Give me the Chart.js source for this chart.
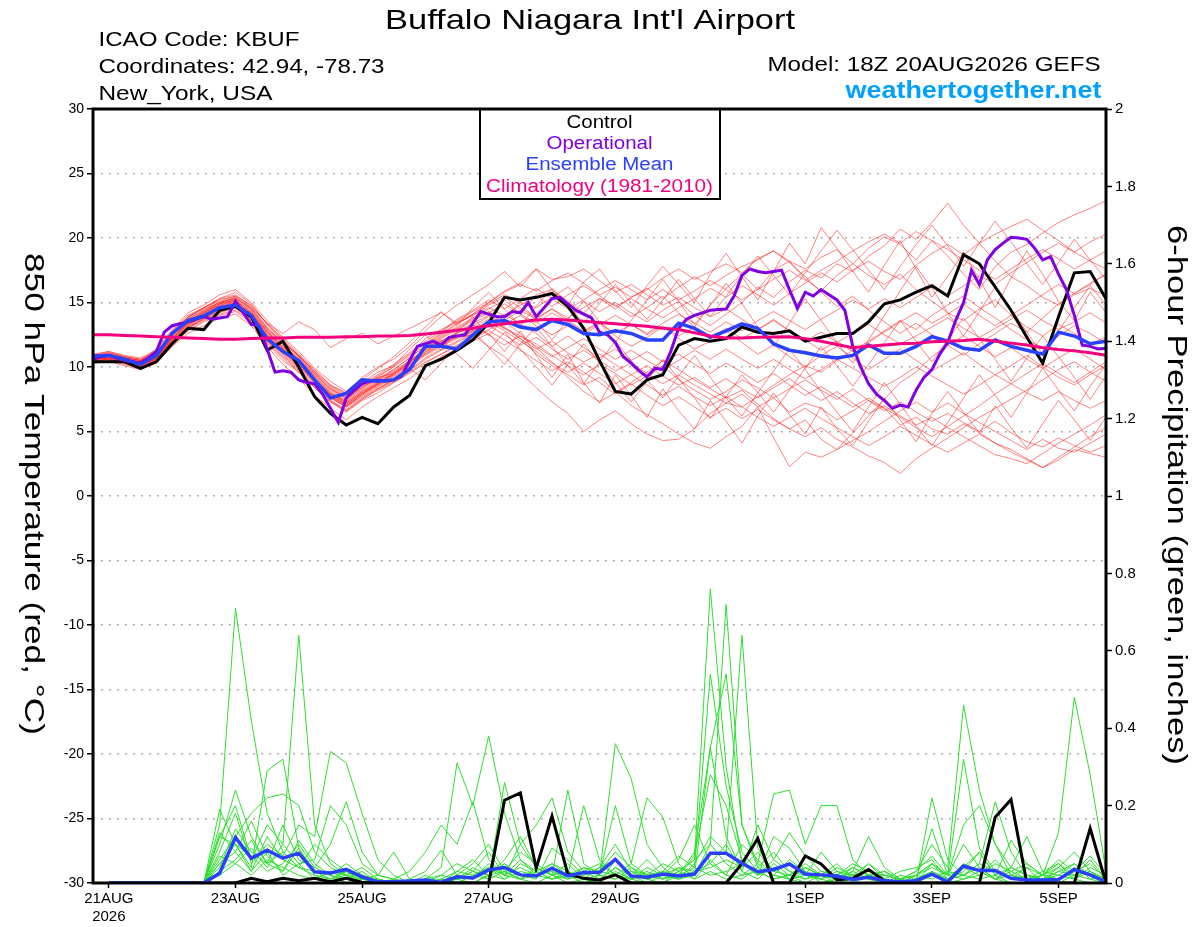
<!DOCTYPE html>
<html><head><meta charset="utf-8">
<script src="https://cdn.jsdelivr.net/npm/chart.js@4.4.1/dist/chart.umd.min.js"></script>
<style>html,body{margin:0;padding:0;background:#fff;} #wrap{width:1200px;height:927px;position:relative;}</style>
</head><body><div id="wrap"><canvas id="c"></canvas></div>
<script>
// ---- time axis (hours after 18Z 20AUG2026) ----
const tickHours = [6, 54, 102, 150, 198, 270, 318, 366];
const tickLabels = [['21AUG', '2026'], '23AUG', '25AUG', '27AUG', '29AUG', '1SEP', '3SEP', '5SEP'];
const stepHours = 6;      // GEFS output interval
const opStepHours = 3;    // operational output interval

// ---- 850 hPa temperature (C), 6-hourly ----
const controlTemp = [10.4,10.4,10.4,9.9,10.4, 11.8,13.0,12.9,14.4,14.7, 13.9,11.3,12.0,10.0,7.7, 6.4,5.5,6.1,5.6,6.9,
  7.8,10.1,10.6,11.3,12.1, 13.4,15.4,15.2,15.4,15.7, 14.7,13.0,10.5,8.1,7.9, 9.0,9.4,11.7,12.2,12.0,
  12.2,13.1,12.7,12.6,12.8, 12.0,12.3,12.6,12.6,13.5, 14.9,15.2,15.8,16.3,15.5, 18.7,18.0,16.2,14.4,12.3,
  10.3,13.9,17.3,17.4,15.3];
const meanTemp = [10.85,10.9,10.6,10.2,10.9, 12.6,13.6,13.95,14.6,14.8, 14.0,12.2,11.2,10.5,9.0, 7.6,7.95,9.0,8.9,9.0,
  9.8,11.6,11.6,11.4,12.5, 13.5,13.6,13.1,12.9,13.6, 13.3,12.6,12.5,12.8,12.6, 12.1,12.1,13.4,13.0,12.3,
  12.8,13.35,13.0,11.8,11.3, 11.1,10.85,10.7,10.9,11.7, 11.06,11.06,11.6,12.35,12.0, 11.45,11.3,12.1,11.6,11.3,
  11.0,12.7,12.4,11.8,12.0];
const climoTemp = [12.5,12.5,12.45,12.4,12.35, 12.3,12.25,12.2,12.15,12.15, 12.2,12.25,12.25,12.3,12.3, 12.3,12.35,12.35,12.4,12.4,
  12.45,12.55,12.7,12.85,13.0, 13.2,13.35,13.5,13.65,13.7, 13.65,13.55,13.45,13.35,13.25, 13.15,13.0,12.9,12.65,12.4,
  12.25,12.25,12.3,12.32,12.35, 12.2,12.0,11.75,11.5,11.6, 11.7,11.8,11.85,11.95,12.0, 12.05,12.15,12.0,11.85,11.7,
  11.5,11.35,11.25,11.1,10.9];
// operational, 3-hourly
const operTemp = [10.6,10.8,10.9,10.7,10.5,10.4,10.3,10.7,11.2,12.7,
  13.2,13.35,13.5,13.7,13.9,13.7,13.8,13.9,15.1,14.2,
  13.3,13.2,11.4,9.6,9.7,9.6,9.0,8.8,8.7,7.9,
  6.8,5.7,7.6,8.2,8.7,8.9,9.0,8.9,9.0,9.3,
  10.5,11.6,11.8,12.0,11.7,12.3,12.4,12.5,13.4,14.3,
  14.1,13.9,13.9,14.3,14.2,15.0,13.9,14.6,15.3,15.4,
  14.9,14.4,14.1,13.8,12.7,12.5,11.9,10.8,10.3,9.7,
  9.25,9.9,9.8,11.2,13.0,13.7,14.0,14.2,14.4,14.45,
  14.5,15.5,17.1,17.6,17.4,17.3,17.4,17.5,16.0,14.55,
  15.8,15.5,16.0,15.6,15.2,14.4,11.6,10.0,8.7,7.9,
  7.4,6.8,7.05,6.9,8.2,9.2,9.8,11.0,11.9,13.6,
  15.0,17.5,16.4,18.3,19.1,19.6,20.05,20.0,19.9,19.2,
  18.3,18.55,17.2,16.0,14.0,11.7,11.6,11.4,11.45];
// ensemble members (read approximately)
const tempMembers = [
 [10.8,11.0,10.7,10.5,11.0, 12.4,13.6,14.2,14.8,15.2, 14.3,12.8,11.6,10.7,9.3, 8.0,7.4,8.6,9.2,9.5, 10.3,11.5,12.4,13.1,13.8, 14.5,15.2,14.1,15.6,16.0, 15.1,14.2,15.3,14.8,13.9, 14.6,15.5,14.2,13.1,14.8, 16.1,17.2,16.0,17.5,18.2, 16.8,15.9,17.1,18.0,19.2, 20.1,19.5,18.3,19.8,18.6, 17.2,16.0,17.8,18.9,19.5, 20.4,21.2,21.8,22.3,22.9],
 [10.5,10.9,10.4,10.2,10.8, 12.1,13.2,14.0,14.5,14.9, 13.8,12.0,11.1,10.3,8.8, 7.6,6.9,7.8,8.5,9.1, 10.0,11.2,11.9,12.3,12.8, 13.6,13.0,12.4,11.8,10.9, 10.1,9.4,10.2,9.5,8.6, 9.3,10.1,9.0,8.2,7.5, 8.1,9.0,8.4,7.6,6.5, 7.2,6.8,5.9,6.6,7.4, 6.8,5.5,6.1,5.2,4.8, 5.6,4.9,4.1,3.6,2.9, 2.2,2.8,3.6,3.3,3.0],
 [11.0,11.2,10.9,10.7,11.3, 12.8,14.0,14.6,15.3,15.6, 14.7,13.4,12.2,11.0,9.8, 8.6,7.9,8.8,9.6,10.1, 11.0,12.2,12.9,13.5,14.1, 14.9,15.6,15.0,14.6,15.4, 16.2,15.1,14.3,15.0,14.2, 13.5,14.4,15.1,14.0,13.2, 14.1,15.0,16.2,15.4,16.6, 17.5,16.9,18.0,17.4,18.6, 19.4,20.7,19.9,21.2,22.7, 21.0,19.6,18.2,17.0,16.3, 15.4,14.8,15.6,16.1,15.5],
 [10.4,10.6,10.3,10.0,10.6, 12.0,13.1,13.7,14.2,14.6, 13.5,11.8,10.5,9.6,8.4, 7.3,6.5,7.4,8.0,8.8, 9.6,10.4,11.0,11.6,12.3, 12.9,13.5,12.6,11.5,10.4, 9.2,8.1,7.3,8.0,8.8, 9.6,10.5,9.8,9.0,8.3, 7.6,8.2,7.1,6.0,5.2, 4.6,5.3,4.4,3.8,3.1, 2.6,1.75,2.9,3.7,4.5, 5.3,6.1,6.8,7.5,8.2, 9.0,9.8,10.4,9.6,8.9],
 [10.7,10.8,10.5,10.3,10.9, 12.3,13.4,14.1,14.7,15.0, 14.2,12.6,11.4,10.4,9.1, 7.9,7.1,8.0,8.7,9.4, 10.2,11.0,11.7,12.3,12.5, 11.6,10.8,9.6,8.4,7.3, 6.4,5.0,5.9,6.6,5.6, 4.8,4.3,4.4,5.2,6.4, 7.2,6.9,7.7,8.6,9.4, 10.1,9.6,10.5,11.3,12.0, 12.8,13.6,12.9,14.0,14.8, 15.5,14.6,13.8,12.9,12.1, 11.5,12.4,13.2,12.6,11.8],
 [10.6,10.7,10.6,10.4,10.7, 12.2,13.5,14.3,14.9,15.4, 14.4,12.9,11.7,10.6,9.4, 8.3,7.6,8.5,9.0,9.7, 10.4,11.3,12.0,12.6,13.2, 13.9,13.1,12.2,11.0,10.1, 9.4,8.6,9.2,8.1,7.0, 6.3,5.6,4.8,4.1,3.7, 4.6,5.4,6.9,4.5,2.27, 3.4,3.0,3.6,4.9,6.2, 7.5,8.8,9.6,10.8,11.7, 10.9,11.8,12.6,13.4,12.7, 13.8,14.9,15.7,16.4,17.2],
 [10.9,11.1,10.8,10.6,11.2, 12.6,13.9,14.5,15.0,15.3, 14.5,13.0,11.9,10.9,9.6, 8.4,7.7,8.6,9.3,10.0, 10.9,11.8,12.7,13.6,14.3, 15.0,15.8,16.4,15.9,16.7, 17.3,16.5,15.6,16.2,15.4, 16.0,16.9,17.6,16.8,17.4, 18.0,17.3,18.4,19.0,18.2, 17.6,18.5,19.1,18.0,17.1, 16.4,17.2,16.0,15.1,14.2, 13.6,14.5,15.2,14.0,13.1, 12.4,13.3,12.6,11.8,12.3],
 [10.6,10.9,10.6,10.4,10.9, 12.5,13.7,14.4,15.0,15.3, 14.6,13.4,12.6,13.5,12.9, 11.5,12.2,12.6,11.8,12.4, 13.0,13.6,14.2,13.4,14.0, 14.8,15.4,14.6,13.8,14.5, 13.6,12.8,13.5,12.4,11.6, 12.3,13.1,12.2,11.4,12.0, 12.8,11.9,11.0,11.7,10.8, 10.0,10.9,11.6,10.7,9.8, 10.6,11.4,10.5,9.7,10.4, 11.1,10.2,9.4,10.1,10.9, 10.0,9.2,8.6,9.4,10.1],
 [10.3,10.5,10.2,9.9,10.4, 11.8,12.9,13.6,14.1,14.4, 13.6,12.0,10.8,9.7,8.5, 7.4,6.7,7.6,8.3,8.9, 9.7,10.6,11.3,11.9,12.6, 13.2,12.5,11.7,12.3,11.4, 10.6,11.3,10.5,9.7,10.3, 9.5,8.7,9.4,8.6,7.9, 7.2,7.9,6.9,7.6,8.3, 9.0,8.2,7.5,8.3,7.4, 6.6,7.3,6.5,5.8,6.4, 5.7,5.0,5.8,4.9,4.2, 3.8,4.5,3.9,3.4,3.9],
 [10.8,11.0,10.6,10.4,11.0, 12.7,13.8,14.6,15.2,15.5, 14.8,13.3,12.1,10.8,9.5, 8.2,7.5,8.3,9.0,9.8, 10.7,11.7,12.6,13.4,14.0, 14.6,14.0,14.8,15.5,14.7, 15.6,16.3,15.5,14.7,15.3, 14.5,13.8,14.6,15.3,16.1, 15.4,16.3,15.6,14.8,15.7, 16.5,17.3,16.6,17.5,18.2, 17.4,16.8,17.9,18.8,19.5, 18.7,19.6,20.3,20.9,21.45, 20.6,19.8,18.9,18.2,17.6],
 [10.5,10.8,10.5,10.3,10.8, 12.3,13.5,14.2,14.8,15.1, 14.1,12.7,11.5,10.5,9.2, 8.0,7.2,8.1,8.8,9.5, 10.4,11.4,12.3,13.0,13.7, 14.3,13.6,14.4,13.7,14.5, 13.8,14.6,15.3,14.5,15.4, 16.1,15.3,16.2,17.0,16.3, 17.1,17.8,18.3,19.0,18.1, 17.0,15.8,14.7,15.5,14.4, 13.5,12.6,13.4,12.5,11.7, 12.4,11.6,10.8,11.5,10.6, 9.9,10.7,11.4,10.6,9.8],
 [10.6,10.7,10.4,10.1,10.7, 12.0,13.2,13.9,14.5,14.8, 13.9,12.4,11.2,10.1,8.9, 7.8,7.0,7.9,8.6,9.3, 10.1,11.0,11.8,12.4,13.0, 13.7,13.0,12.2,11.4,12.0, 11.1,10.4,11.0,10.2,9.4, 10.1,9.3,8.6,9.2,8.4, 9.1,8.3,7.6,8.4,9.1, 8.2,7.4,8.1,7.2,6.4, 7.0,6.2,5.5,6.1,5.3, 4.6,3.9,3.2,2.9,2.5, 3.3,4.1,4.8,5.5,6.3],
 [10.9,11.0,10.7,10.5,11.1, 12.5,13.7,14.4,15.0,15.4, 14.5,13.0,11.8,10.8,9.5, 8.3,7.6,8.4,9.1,9.8, 10.7,11.6,12.5,13.3,14.1, 15.0,15.9,16.5,17.6,16.8, 17.0,17.6,16.7,15.8,16.4, 15.6,14.8,15.4,14.6,13.9, 14.5,13.7,12.9,13.6,12.8, 12.0,12.7,11.9,12.6,13.3, 12.5,11.8,12.4,13.1,13.8, 13.0,12.3,13.0,13.7,14.4, 13.6,12.9,13.5,14.2,13.4],
 [10.4,10.6,10.4,10.1,10.5, 11.9,13.0,13.8,14.3,14.7, 13.7,12.2,11.0,9.9,8.7, 7.6,6.9,7.7,8.4,9.0, 9.8,10.7,11.4,12.0,12.8, 13.3,14.1,13.3,12.6,11.6, 12.4,11.5,10.7,11.4,10.5, 11.2,10.4,11.0,10.2,9.5, 10.3,9.6,8.8,9.5,8.6, 7.8,8.5,7.7,6.9,7.6, 6.8,6.1,5.3,4.6,5.4, 6.2,7.0,7.9,8.7,9.5, 10.3,9.5,8.8,9.6,10.4],
 [10.7,10.9,10.6,10.4,10.9, 12.4,13.6,14.3,14.9,15.2, 14.3,12.8,11.6,10.6,9.3, 8.1,7.3,8.2,8.9,9.6, 10.5,11.4,12.2,12.9,13.6, 14.2,14.9,14.1,13.4,14.2, 13.5,12.7,13.4,12.6,13.3, 12.5,13.2,12.4,13.1,12.3, 13.0,12.2,12.9,13.7,12.8, 12.1,11.3,12.0,11.2,11.9, 12.7,13.5,14.2,13.4,14.1, 14.9,14.0,13.2,14.0,14.8, 15.6,16.4,15.7,16.5,17.2],
 [10.5,10.6,10.3,10.0,10.5, 11.7,12.8,13.5,14.0,14.3, 13.4,11.9,10.7,9.6,8.4, 7.3,6.6,7.5,8.2,8.8, 9.5,10.3,11.0,11.7,12.2, 12.8,12.1,11.3,10.5,9.7, 10.4,9.6,8.8,7.9,8.7, 7.8,7.0,7.7,6.9,6.1, 6.8,6.0,6.7,5.9,5.2, 5.9,4.4,3.6,4.3,5.0, 5.8,6.6,7.3,6.5,7.2, 6.4,5.7,5.0,4.3,3.6, 4.4,3.7,3.4,4.1,4.8],
 [10.8,11.1,10.8,10.6,11.1, 12.7,13.9,14.6,15.1,15.5, 14.6,13.1,11.9,10.9,9.6, 8.5,7.8,8.7,9.4,10.2, 11.1,12.0,12.8,13.7,14.4, 15.2,14.5,15.3,16.1,15.3, 14.5,15.2,16.0,16.7,16.0, 15.2,16.0,15.2,15.9,16.7, 16.0,15.2,16.0,16.8,17.5, 16.7,17.5,18.2,19.0,19.7, 20.3,19.6,20.5,19.8,19.1, 18.3,17.5,16.8,17.6,18.4, 19.1,18.4,17.6,18.3,19.0],
 [10.6,10.8,10.5,10.2,10.7, 12.1,13.3,14.0,14.6,15.0, 14.0,12.5,11.3,10.2,9.0, 7.8,7.1,8.0,8.7,9.4, 10.2,11.1,11.9,12.6,13.3, 12.5,11.7,12.4,11.6,10.8, 11.5,12.2,11.4,10.6,11.3, 10.5,9.8,10.5,11.3,10.6, 11.4,10.6,9.9,10.6,9.8, 9.1,9.8,10.6,9.9,9.2, 8.5,9.2,10.0,9.3,8.6, 7.9,8.6,9.4,8.7,8.0, 7.4,8.1,7.4,6.8,7.4],
 [10.4,10.5,10.3,10.1,10.6, 12.0,13.1,13.8,14.4,14.8, 13.8,12.3,11.1,10.0,8.8, 7.7,7.0,7.9,8.6,9.2, 10.0,10.9,11.6,12.2,12.9, 13.5,12.8,12.0,11.2,10.3, 9.6,10.3,9.5,8.7,9.4, 8.6,7.8,8.5,7.7,7.0, 7.7,6.9,6.1,5.4,6.1, 6.8,6.0,5.3,4.6,3.9, 4.6,5.4,4.7,4.0,3.4, 4.1,4.8,4.1,3.4,2.8, 2.2,3.0,3.8,4.6,5.3],
 [10.7,10.9,10.6,10.3,10.8, 12.2,13.4,14.1,14.7,15.1, 14.2,12.7,11.5,10.4,9.1, 7.9,7.2,8.1,8.8,9.5, 10.3,11.2,12.0,12.7,13.4, 14.0,13.3,14.0,13.2,12.5, 13.2,12.5,13.3,14.0,13.3, 12.6,13.4,14.1,13.4,12.7, 13.5,12.8,13.6,14.3,13.6, 12.9,13.7,14.4,15.2,14.5, 15.3,14.6,15.4,16.2,15.5, 16.3,17.1,16.4,17.3,18.1, 18.9,19.6,18.9,19.7,20.3],
 [10.9,11.2,10.8,10.5,11.4, 12.9,14.2,14.8,15.6,16.0, 15.0,13.6,12.3,11.2,9.9, 8.9,8.1,9.2,10.0,10.6, 11.6,12.8,13.9,14.8,15.6, 16.4,17.4,16.2,17.6,16.0, 14.8,16.6,17.6,15.9,14.6, 16.3,17.8,16.4,15.0,17.2, 18.8,17.0,15.2,17.4,19.6, 18.0,20.8,19.2,17.4,15.8, 17.9,19.8,17.6,15.4,17.0, 18.9,16.8,14.6,16.9,19.0, 17.2,15.1,13.6,15.8,14.2],
 [10.3,10.4,10.1,9.8,10.3, 11.6,12.6,13.2,13.8,14.1, 13.2,11.6,10.2,9.1,7.8, 6.8,5.9,6.9,7.7,8.4, 9.1,10.0,10.8,11.4,12.0, 12.6,11.2,12.8,10.9,9.2, 11.0,8.8,7.2,9.4,7.8, 6.1,8.3,6.6,5.2,7.4, 5.8,4.1,6.2,8.0,6.3, 4.8,6.9,5.2,3.9,5.8, 7.6,5.9,4.2,6.4,8.1, 6.5,4.9,7.0,5.3,3.7, 5.6,7.4,5.9,4.3,6.1],
 [10.6,10.7,10.5,10.3,10.6, 12.1,13.4,14.2,14.9,15.2, 14.1,12.5,11.4,10.3,9.1, 7.9,7.3,8.4,9.2,10.1, 11.4,12.5,11.3,12.7,13.9, 12.4,13.8,15.0,13.6,12.1, 13.7,15.1,13.5,11.9,13.6, 15.2,16.8,15.1,13.3,14.8, 16.5,14.9,13.1,11.6,13.4, 15.3,13.6,11.9,10.3,12.1, 14.0,15.9,17.8,16.1,14.2, 12.4,14.3,16.2,14.5,12.7, 11.0,12.8,14.6,16.3,14.8],
 [10.5,10.6,10.4,10.2,10.6, 11.9,13.0,13.7,14.3,14.6, 13.7,12.1,10.9,9.8,8.6, 7.4,6.6,7.5,8.3,9.0, 9.9,9.0,10.3,11.6,12.8, 11.5,10.2,11.8,13.1,11.6, 10.1,8.7,10.4,12.0,10.5, 9.0,7.6,9.3,10.9,9.2, 7.6,6.2,8.0,9.7,11.4, 9.8,8.1,6.5,5.0,6.9, 8.8,7.1,5.4,3.9,5.7, 7.6,9.4,7.8,6.1,8.0, 9.9,8.2,6.6,8.5,10.2],
 [10.8,11.0,10.7,10.5,11.0, 12.6,13.8,14.6,15.3,15.8, 14.9,13.3,12.0,10.9,9.7, 8.6,8.0,9.0,9.9,10.8, 11.9,13.1,14.3,13.2,14.6, 15.8,14.5,13.2,14.7,16.1, 14.8,13.4,14.9,16.4,15.0, 13.7,15.2,16.8,15.3,13.9, 15.5,17.1,18.6,17.1,15.6, 17.3,19.0,20.6,19.1,17.5, 16.0,17.8,19.5,21.0,19.4, 17.8,19.6,21.3,19.7,18.0, 16.4,18.1,19.9,18.3,16.8],
 [10.4,10.7,10.4,10.2,10.8, 12.2,13.3,14.0,14.6,14.9, 14.0,12.4,11.2,10.1,8.9, 7.7,6.9,7.9,8.7,9.5, 10.4,11.4,12.1,11.0,9.9, 11.3,12.7,11.4,10.0,8.6, 10.2,11.8,10.3,8.8,7.3, 8.9,10.6,9.1,7.6,6.0, 7.7,9.4,8.0,6.5,8.2, 9.9,11.6,10.1,8.5,10.2, 11.9,13.6,12.0,10.4,12.1, 13.8,12.2,10.6,8.9,10.7, 12.4,10.8,9.2,7.5,9.3]
];

// ---- 6-hour precipitation (inches) ----
const controlPrecip = [null, 0,0,0,0, 0,0,0,0,0, 0.012,0.003,0.012,0.006,0.012, 0.003,0.012,0.002,0,0, 0,0,0,0,0,
  0,0.214,0.233,0.038,0.173, 0.023,0.012,0.008,0.021,0, 0,0,0,0,0, 0,0.05,0.115,0,0,
  0.07,0.049,0.008,0.012,0.035, 0.006,0,0,0,0, 0,0,0.17,0.216,0, 0,0,0,0.141,0];
const meanPrecip = [null, 0,0,0,0, 0,0,0,0.025,0.118, 0.064,0.085,0.064,0.077,0.029, 0.026,0.035,0.016,0.003,0.003,
  0.005,0.008,0.002,0.016,0.013, 0.034,0.040,0.021,0.018,0.038, 0.018,0.027,0.027,0.061,0.018, 0.015,0.023,0.018,0.023,0.077,
  0.077,0.051,0.029,0.035,0.049, 0.023,0.021,0.018,0.009,0.015, 0.006,0.003,0.006,0.023,0.003, 0.044,0.032,0.032,0.012,0.008,
  0.008,0.009,0.035,0.021,0.003];
const precipMembers = [
 [null,0,0,0,0, 0,0,0,0.15,0.71, 0.42,0.18,0.08,0.04,0.02, 0.01,0.03,0,0,0, 0,0,0,0.02,0.05, 0.1,0.03,0.01,0,0.02, 0.05,0.01,0,0.03,0.01, 0,0,0.02,0.08,0.35, 0.12,0.03,0.01,0.05,0.02, 0,0,0.01,0.03,0.01, 0,0,0,0.02,0, 0.04,0.08,0.02,0,0, 0.01,0.02,0.05,0.01,0],
 [null,0,0,0,0, 0,0,0,0.12,0.2, 0.06,0.15,0.1,0.64,0.15, 0.05,0.02,0,0.01,0, 0,0,0.01,0,0, 0.02,0.06,0.12,0.04,0.02, 0,0.01,0.04,0.1,0.03, 0.01,0,0.03,0.06,0.76, 0.3,0.05,0.02,0.12,0.09, 0.03,0.01,0,0,0.02, 0.01,0,0,0.05,0.02, 0.1,0.04,0.01,0,0, 0.02,0.05,0.01,0.03,0],
 [null,0,0,0,0, 0,0,0,0.05,0.1, 0.03,0.08,0.02,0.05,0.01, 0.03,0.02,0.01,0,0, 0,0.01,0.04,0.31,0.2, 0.38,0.18,0.06,0.02,0.05, 0.03,0.01,0,0.06,0.02, 0,0.02,0.04,0.02,0.1, 0.72,0.15,0.04,0.02,0.06, 0.03,0,0.01,0.04,0.02, 0,0.01,0,0.03,0.01, 0.02,0.05,0.03,0.01,0.04, 0,0.01,0.03,0.02,0],
 [null,0,0,0,0, 0,0,0,0.08,0.18, 0.05,0.1,0.07,0.15,0.12, 0.34,0.31,0.18,0.06,0.02, 0,0.01,0,0.02,0.01, 0.05,0.02,0.1,0.15,0.22, 0.08,0.03,0.01,0.04,0.02, 0.06,0.02,0.01,0.05,0.12, 0.08,0.64,0.09,0.03,0.05, 0.02,0.01,0.03,0.02,0.05, 0.01,0,0.02,0.05,0.02, 0.01,0.03,0.01,0.04,0.02, 0.01,0,0.02,0.06,0.01],
 [null,0,0,0,0, 0,0,0,0.19,0.1, 0.04,0.29,0.32,0.09,0.03, 0.02,0.05,0.02,0.01,0, 0,0,0.01,0.03,0.02, 0.01,0.26,0.1,0.04,0.02, 0.24,0.05,0.02,0.36,0.27, 0.1,0.04,0.01,0.02,0.35, 0.54,0.15,0.05,0.02,0.01, 0,0.02,0.05,0.01,0.02, 0.03,0,0.01,0.02,0, 0.01,0.02,0.05,0.03,0.01, 0.02,0.04,0.01,0,0],
 [null,0,0,0,0, 0,0,0,0.06,0.12, 0.18,0.22,0.23,0.2,0.08, 0.04,0.02,0,0.01,0, 0,0,0,0.01,0, 0.02,0.05,0.01,0.03,0.05, 0.02,0,0.01,0.04,0.01, 0.02,0.05,0.03,0.01,0.06, 0.02,0.01,0.04,0.08,0.03, 0.01,0.02,0,0.01,0.05, 0.02,0.01,0.03,0.1,0.04, 0.46,0.24,0.1,0.04,0.12, 0.03,0.02,0.01,0.04,0.02],
 [null,0,0,0,0, 0,0,0,0.1,0.24, 0.12,0.05,0.15,0.06,0.04, 0.1,0.21,0.08,0.02,0.08, 0.01,0.03,0.085,0.02,0.01, 0.04,0.02,0.06,0.03,0.01, 0.02,0.2,0.06,0.02,0.05, 0.22,0.17,0.05,0.01,0.03, 0.01,0.02,0.05,0.23,0.24, 0.1,0.2,0.2,0.06,0.02, 0.01,0,0.02,0.01,0.03, 0.02,0.05,0.21,0.08,0.02, 0.01,0.03,0.05,0.02,0],
 [null,0,0,0,0, 0,0,0,0.04,0.14, 0.08,0.05,0.03,0.09,0.02, 0.01,0.03,0,0,0, 0,0.02,0,0.01,0.03, 0.08,0.02,0.04,0.02,0.01, 0.03,0.01,0.02,0.2,0.05, 0.02,0.01,0.04,0.03,0.05, 0.02,0.1,0.06,0.02,0.01, 0.04,0.02,0.01,0.03,0.12, 0.04,0.01,0,0.22,0.06, 0.02,0.04,0.01,0.03,0.05, 0.02,0.13,0.48,0.28,0.03],
 [null,0,0,0,0, 0,0,0,0.13,0.08, 0.16,0.07,0.03,0.11,0.05, 0.02,0,0.01,0.02,0.01, 0,0,0.02,0.05,0.03, 0.01,0.03,0.08,0.05,0.02, 0.01,0.04,0.02,0.01,0.03, 0.02,0.03,0.02,0.04,0.54, 0.25,0.08,0.03,0.01,0.02, 0.05,0.02,0.01,0.02,0.01, 0,0.02,0.01,0.14,0.02, 0.32,0.09,0.03,0.01,0.02, 0.01,0.04,0.08,0.03,0.01],
 [null,0,0,0,0, 0,0,0,0.05,0.08, 0.03,0.12,0.06,0.04,0.1, 0.06,0.03,0.01,0,0, 0.01,0,0,0.03,0.06, 0.02,0.05,0.02,0.01,0.09, 0.06,0.02,0.03,0.08,0.04, 0.01,0.02,0.06,0.15,0.05, 0.1,0.03,0.15,0.06,0.13, 0.07,0.03,0.02,0.05,0.03, 0.01,0.03,0.04,0.06,0.01, 0.03,0.08,0.02,0.11,0.05, 0.02,0.01,0.03,0.07,0.02],
 [null,0,0,0,0, 0,0,0,0.07,0.05, 0.09,0.04,0.1,0.05,0.06, 0.2,0.15,0.05,0.02,0.01, 0,0,0.01,0,0.02, 0.04,0.01,0.03,0.02,0.04, 0.02,0.03,0.05,0.02,0.01, 0.03,0.01,0.02,0.07,0.28, 0.2,0.06,0.02,0.04,0.01, 0.02,0.01,0.04,0.02,0.01, 0.02,0.01,0.02,0.04,0.02, 0.15,0.2,0.1,0.02,0.01, 0.03,0.05,0.02,0.01,0.02],
 [null,0,0,0,0, 0,0,0,0.03,0.06, 0.11,0.05,0.08,0.04,0.03, 0.01,0.02,0.04,0.01,0, 0,0,0,0.01,0.04, 0.02,0.03,0.01,0.02,0.03, 0.01,0.02,0.04,0.06,0.02, 0.01,0.03,0.07,0.04,0.02, 0.03,0.05,0.02,0.06,0.03, 0.02,0.08,0.03,0.01,0.02, 0.03,0.01,0.02,0.05,0.01, 0.05,0.03,0.01,0.02,0.04, 0.02,0.06,0.03,0.05,0.01],
 [null,0,0,0,0, 0,0,0,0.02,0.05, 0.02,0.06,0.04,0.02,0.01, 0.03,0.01,0,0,0.01, 0.03,0.08,0.15,0.1,0.21, 0.06,0.02,0.01,0.04,0.02, 0.03,0.01,0.02,0.01,0.04, 0.02,0.01,0.03,0.06,0.1, 0.05,0.02,0.03,0.01,0.02, 0.01,0.03,0.02,0.04,0.02, 0.01,0,0.01,0.03,0.01, 0.02,0.01,0.02,0.04,0.02, 0.01,0.03,0.02,0.03,0.01],
 [null,0,0,0,0, 0,0,0,0.12,0.1, 0.07,0.03,0.05,0.1,0.04, 0.02,0.01,0.03,0,0, 0,0.01,0.02,0.01,0.03, 0.02,0.01,0.05,0.03,0.01, 0.02,0.04,0.03,0.02,0.01, 0.04,0.02,0.01,0.03,0.04, 0.06,0.04,0.08,0.03,0.02, 0.04,0.02,0.01,0.02,0.03, 0.02,0.01,0.03,0.07,0.02, 0.04,0.02,0.06,0.02,0.01, 0.02,0.01,0.04,0.02,0.01]
];

// ---- text ----
const titleText = "Buffalo Niagara Int'l Airport";
const infoLines = ['ICAO Code: KBUF', 'Coordinates: 42.94, -78.73', 'New_York, USA'];
const modelText = 'Model: 18Z 20AUG2026 GEFS';
const siteText = 'weathertogether.net';
const legendItems = ['Control', 'Operational', 'Ensemble Mean', 'Climatology (1981-2010)'];
const leftTitle = '850 hPa Temperature (red, \u00B0C)';
const rightTitle = '6-hour Precipitation (green, inches)';

// ---- styling ----
const FONT = "'Liberation Sans', Arial, Helvetica, sans-serif";
const C_CONTROL = '#000000', C_OPER = '#8000e0', C_MEAN = '#2a40ff', C_CLIMO = '#f2007e';
const C_MEMBER = 'rgba(255,30,30,0.55)', C_PMEMBER = '#2ede2e', C_SITE = '#00a0ff';

const toXY = (arr, step) => arr.map((v, i) => ({x: i * step, y: v}));

function fitText(ctx, s, x, y, size, weight, color, align, width, rotate) {
  ctx.save();
  ctx.font = weight + ' ' + size + 'px ' + FONT;
  ctx.fillStyle = color;
  const w = ctx.measureText(s).width;
  const sx = width ? width / w : 1;
  ctx.translate(x, y);
  if (rotate) ctx.rotate(rotate);
  ctx.scale(sx, 1);
  ctx.textAlign = align;
  ctx.textBaseline = rotate ? 'middle' : 'alphabetic';
  ctx.fillText(s, 0, 0);
  ctx.restore();
}

const decor = {
  id: 'decor',
  afterDraw(chart) {
    const {ctx, chartArea: a} = chart;
    ctx.save();
    ctx.fillStyle = '#fff';
    ctx.fillRect(480, a.top, 240, 90);
    ctx.strokeStyle = '#000';
    ctx.lineWidth = 2;
    ctx.strokeRect(480, a.top, 240, 90);
    ctx.lineWidth = 3;
    ctx.strokeRect(a.left, a.top, a.right - a.left, a.bottom - a.top);
    ctx.restore();

    const legendColors = [C_CONTROL, C_OPER, C_MEAN, C_CLIMO];
    const legendWidths = [66, 106, 148, 227];
    const legendBase = [127.5, 148.5, 170, 191.5];
    legendItems.forEach((t, i) => fitText(ctx, t, 599.5, legendBase[i], 18, 'normal', legendColors[i], 'center', legendWidths[i]));

    fitText(ctx, titleText, 590, 28.5, 28, 'normal', '#000', 'center', 410);
    const infoW = [201, 286, 174], infoB = [46, 73, 100];
    infoLines.forEach((t, i) => fitText(ctx, t, 98.5, infoB[i], 21, 'normal', '#000', 'left', infoW[i]));
    fitText(ctx, modelText, 1100.5, 71, 21, 'normal', '#000', 'right', 333);
    fitText(ctx, siteText, 1101.5, 97.5, 23, 'bold', C_SITE, 'right', 256);

    fitText(ctx, leftTitle, 33, 494, 28, 'normal', '#000', 'center', 482, Math.PI / 2);
    fitText(ctx, rightTitle, 1176, 495, 28, 'normal', '#000', 'center', 540, Math.PI / 2);
  }
};

const base = {pointRadius: 0, pointHoverRadius: 0, fill: false, tension: 0, spanGaps: false};
const datasets = [];
tempMembers.forEach(m => datasets.push(Object.assign({}, base, {data: toXY(m, stepHours), yAxisID: 'yT', borderColor: C_MEMBER, borderWidth: 1, order: 20})));
precipMembers.forEach(m => datasets.push(Object.assign({}, base, {data: toXY(m, stepHours), yAxisID: 'yP', borderColor: C_PMEMBER, borderWidth: 1, order: 19})));
datasets.push(Object.assign({}, base, {data: toXY(controlPrecip, stepHours), yAxisID: 'yP', borderColor: C_CONTROL, borderWidth: 3, order: 6}));
datasets.push(Object.assign({}, base, {data: toXY(meanPrecip, stepHours), yAxisID: 'yP', borderColor: C_MEAN, borderWidth: 3.5, order: 5}));
datasets.push(Object.assign({}, base, {data: toXY(controlTemp, stepHours), yAxisID: 'yT', borderColor: C_CONTROL, borderWidth: 3, order: 3}));
datasets.push(Object.assign({}, base, {data: toXY(operTemp, opStepHours), yAxisID: 'yT', borderColor: C_OPER, borderWidth: 3, order: 2}));
datasets.push(Object.assign({}, base, {data: toXY(meanTemp, stepHours), yAxisID: 'yT', borderColor: C_MEAN, borderWidth: 3.5, order: 1}));
datasets.push(Object.assign({}, base, {data: toXY(climoTemp, stepHours), yAxisID: 'yT', borderColor: C_CLIMO, borderWidth: 3, order: 0}));

new Chart(document.getElementById('c'), {
  type: 'line',
  data: {datasets},
  plugins: [decor],
  options: {
    responsive: true, maintainAspectRatio: false, animation: false, events: [],
    layout: {padding: {top: 109, left: 0, right: 0, bottom: 0}},
    plugins: {legend: {display: false}, tooltip: {enabled: false}, title: {display: false}},
    scales: {
      x: {
        type: 'linear', min: 0, max: 384,
        afterBuildTicks: ax => { ax.ticks = tickHours.map(v => ({value: v})); },
        afterFit: s => { s.height = 44; },
        ticks: {autoSkip: false, maxRotation: 0, minRotation: 0, color: '#000', padding: 2,
          font: {family: FONT, size: 15},
          callback: v => { const i = tickHours.indexOf(v); return i >= 0 ? tickLabels[i] : ''; }},
        grid: {drawOnChartArea: false, drawTicks: true, tickLength: 5, tickColor: '#000', tickWidth: 1.5},
        border: {display: false}
      },
      yT: {
        position: 'left', min: -30, max: 30,
        afterFit: s => { s.width = 93; },
        ticks: {stepSize: 5, color: '#000', padding: 3, font: {family: FONT, size: 14}},
        grid: {color: '#aaaaaa', lineWidth: 1.5, drawTicks: true, tickLength: 6, tickColor: '#000', tickWidth: 1.5},
        border: {display: false, dash: [2, 6]}
      },
      yP: {
        position: 'right', min: 0, max: 2,
        afterFit: s => { s.width = 94; },
        ticks: {stepSize: 0.2, color: '#000', padding: 3, font: {family: FONT, size: 15},
          callback: v => String(Math.round(v * 10) / 10)},
        grid: {drawOnChartArea: false, drawTicks: true, tickLength: 6, tickColor: '#000', tickWidth: 1.5},
        border: {display: false}
      }
    }
  }
});
</script></body></html>
